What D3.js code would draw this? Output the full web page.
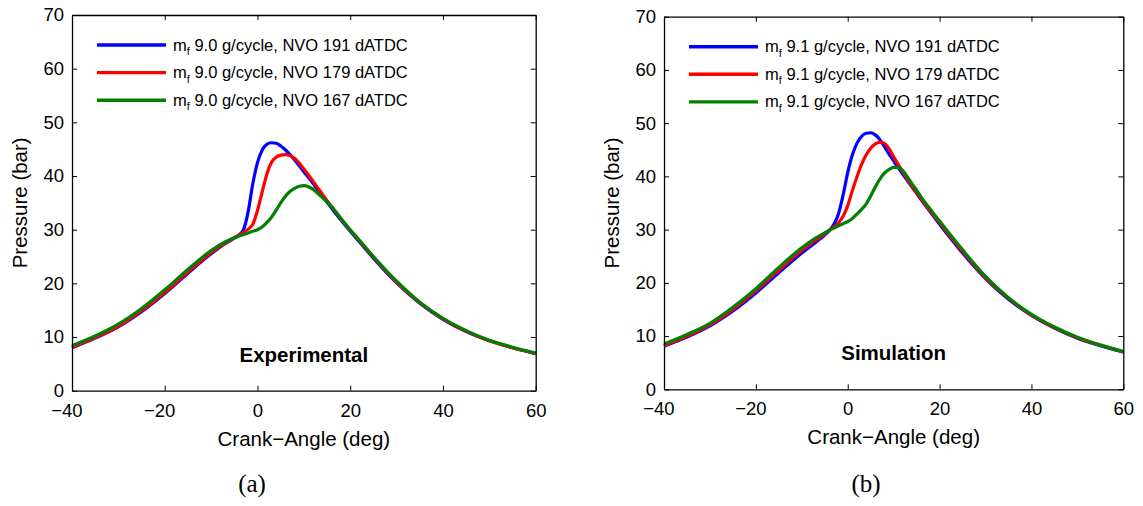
<!DOCTYPE html>
<html><head><meta charset="utf-8">
<script src="https://cdn.jsdelivr.net/npm/d3@7"></script>
<style>
body{margin:0;background:#fff}
svg{display:block}
text{font-family:"Liberation Sans",Arial,Helvetica,sans-serif;fill:#000}
</style>
</head><body>
<svg id="chart" width="1143" height="506"></svg>
<script>
// ---------- data ----------
const crankAngle = [-40,-35,-30,-25,-20,-15,-10,-7,-5,-4,-3,-2,-1,0,1,2,3,4,5,6,7,8,9,10,11,12,13,14,15,16,18,20,22,25,30,35,40,45,50,55,60];

// (a) Experimental, mf 9.0 g/cycle
const expNVO191 = [8.0,9.8,11.9,14.7,18.1,21.9,25.5,27.4,28.4,29.0,30.0,33.4,38.6,42.5,44.8,45.9,46.2,46.1,45.6,44.9,44.0,43.0,41.9,40.8,39.7,38.6,37.4,36.2,35.1,34.0,31.8,29.7,27.7,24.7,20.1,16.3,13.3,11.0,9.3,8.0,6.9];
const expNVO179 = [8.1,9.9,12.0,14.9,18.3,22.1,25.7,27.5,28.5,29.0,29.5,30.1,31.0,33.6,37.0,40.3,42.5,43.5,43.9,44.0,43.8,43.3,42.4,41.3,40.2,39.0,37.8,36.6,35.4,34.3,32.0,29.9,27.9,24.9,20.2,16.4,13.4,11.1,9.3,8.0,6.9];
const expNVO167 = [8.4,10.2,12.4,15.3,18.8,22.6,26.1,27.7,28.5,28.8,29.1,29.4,29.7,30.0,30.5,31.3,32.3,33.6,35.0,36.2,37.1,37.7,38.1,38.2,38.0,37.5,36.8,36.0,35.2,34.3,32.1,30.0,28.0,25.0,20.4,16.5,13.5,11.2,9.4,8.1,7.0];

// (b) Simulation, mf 9.1 g/cycle
const simNVO191 = [8.1,9.8,11.9,14.7,18.1,21.9,25.6,27.6,29.0,29.8,31.0,33.0,36.5,40.7,44.0,46.2,47.5,48.1,48.2,47.8,46.9,45.6,44.2,42.9,41.6,40.4,39.2,38.0,36.8,35.6,33.3,31.0,28.8,25.6,20.8,16.9,13.9,11.5,9.6,8.2,7.0];
const simNVO179 = [8.2,10.0,12.1,15.0,18.5,22.4,26.1,28.0,29.2,29.9,30.5,31.3,32.5,34.5,37.3,39.9,42.2,44.0,45.3,46.1,46.4,46.2,45.2,43.7,42.2,40.8,39.5,38.2,37.0,35.8,33.5,31.3,29.1,25.9,21.0,17.1,14.0,11.6,9.7,8.3,7.1];
const simNVO167 = [8.5,10.3,12.4,15.4,18.9,22.9,26.6,28.4,29.4,29.9,30.3,30.7,31.1,31.5,32.1,32.9,33.8,34.8,36.3,38.0,39.5,40.6,41.3,41.7,41.7,41.1,39.9,38.6,37.4,36.1,33.8,31.6,29.4,26.2,21.2,17.2,14.1,11.7,9.8,8.3,7.1];

const xTickValues = [-40,-20,0,20,40,60];
const yTickValues = [0,10,20,30,40,50,60,70];
const seriesColors = ["#0000ff","#ff0000","#008000"];
const expLegend = [" 9.0 g/cycle, NVO 191 dATDC"," 9.0 g/cycle, NVO 179 dATDC"," 9.0 g/cycle, NVO 167 dATDC"];
const simLegend = [" 9.1 g/cycle, NVO 191 dATDC"," 9.1 g/cycle, NVO 179 dATDC"," 9.1 g/cycle, NVO 167 dATDC"];
const xLabel = "Crank\u2212Angle (deg)";
const yLabel = "Pressure (bar)";

// ---------- drawing ----------
const svg = d3.select("#chart");

function drawPanel(p) {
  const x = d3.scaleLinear().domain([-40, 60]).range([p.left, p.right]);
  const y = d3.scaleLinear().domain([0, 70]).range([p.bottom, p.top]);
  const g = svg.append("g");

  // curves
  const line = d3.line().x((d, i) => x(crankAngle[i])).y(d => y(d)).curve(d3.curveMonotoneX);
  p.series.forEach((s, k) => {
    g.append("path").datum(s).attr("d", line)
      .attr("fill", "none").attr("stroke", seriesColors[k])
      .attr("stroke-width", 3.2).attr("stroke-linejoin", "round");
  });

  // axes (inward ticks on all four sides)
  const fs = 18.5;
  const ax = g.append("g").attr("transform", `translate(0,${p.bottom})`)
    .call(d3.axisBottom(x).tickValues(xTickValues).tickSizeInner(-5).tickSizeOuter(0).tickPadding(13));
  ax.selectAll("text").attr("font-size", fs).attr("dx", d => d < 0 ? "-0.3em" : 0);
  const ay = g.append("g").attr("transform", `translate(${p.left},0)`)
    .call(d3.axisLeft(y).tickValues(yTickValues).tickSizeInner(-5).tickSizeOuter(0).tickPadding(8));
  ay.selectAll("text").attr("font-size", fs);
  g.append("g").attr("transform", `translate(0,${p.top})`)
    .call(d3.axisTop(x).tickValues(xTickValues).tickSizeInner(-5).tickSizeOuter(0).tickFormat(""));
  g.append("g").attr("transform", `translate(${p.right},0)`)
    .call(d3.axisRight(y).tickValues(yTickValues).tickSizeInner(-5).tickSizeOuter(0).tickFormat(""));
  g.selectAll(".domain").attr("stroke", "#000").attr("stroke-width", 1.3);
  g.selectAll(".tick line").attr("stroke", "#000").attr("stroke-width", 1);
  g.selectAll(".tick text").attr("font-family", "'Liberation Sans',Arial,sans-serif").attr("fill", "#000");

  // axis labels
  g.append("text").attr("x", (p.left + p.right) / 2).attr("y", p.bottom + 55)
    .attr("text-anchor", "middle").attr("font-size", 20.5).text(xLabel);
  g.append("text").attr("transform", `translate(${p.left - 45},${(p.top + p.bottom) / 2}) rotate(-90)`)
    .attr("text-anchor", "middle").attr("font-size", 20.5).text(yLabel);

  // panel title inside
  g.append("text").attr("x", (p.left + p.right) / 2).attr("y", p.bottom - 29)
    .attr("text-anchor", "middle").attr("font-size", 20.5).attr("font-weight", "bold").text(p.title);

  // legend
  p.legend.forEach((t, k) => {
    const ly = p.top + 30 + k * 27.6;
    g.append("line").attr("x1", p.left + 25).attr("x2", p.left + 94)
      .attr("y1", ly).attr("y2", ly).attr("stroke", seriesColors[k]).attr("stroke-width", 3.4);
    const tx = g.append("text").attr("x", p.left + 101).attr("y", ly + 5.5).attr("font-size", 16.5);
    tx.append("tspan").text("m");
    tx.append("tspan").attr("font-size", 11).attr("dy", 4.5).text("f");
    tx.append("tspan").attr("dy", -4.5).text(t);
  });

  // caption
  svg.append("text").attr("x", p.caption[0]).attr("y", 492)
    .attr("text-anchor", "middle").attr("font-size", 25)
    .style("font-family", "'Liberation Serif','Times New Roman',serif")
    .text(p.caption[1]);
}

drawPanel({left: 72, right: 535.7, top: 15, bottom: 390.7,
  series: [expNVO191, expNVO179, expNVO167], legend: expLegend, title: "Experimental", caption: [252, "(a)"]});
drawPanel({left: 664, right: 1123.3, top: 16.7, bottom: 389.3,
  series: [simNVO191, simNVO179, simNVO167], legend: simLegend, title: "Simulation", caption: [866, "(b)"]});
</script>
</body></html>
